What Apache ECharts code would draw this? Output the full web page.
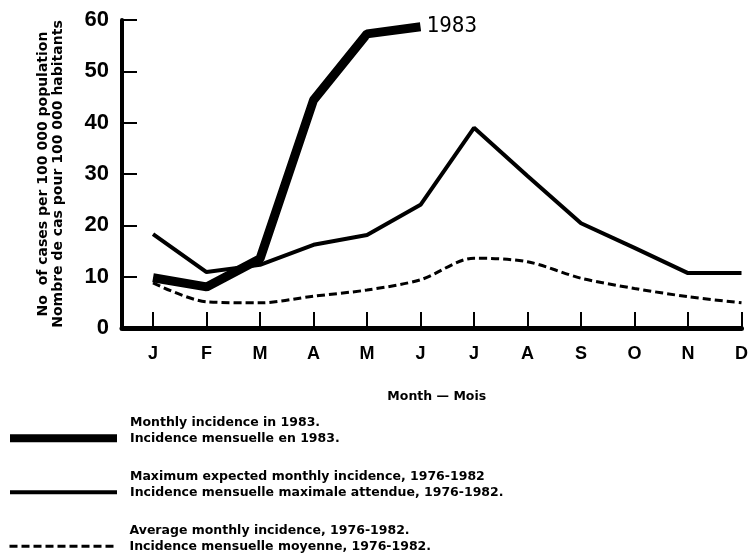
<!DOCTYPE html>
<html>
<head>
<meta charset="utf-8">
<script src="https://cdn.jsdelivr.net/npm/echarts@6/dist/echarts.min.js"></script>
<style>html,body{margin:0;padding:0;background:#fff}#c{width:751px;height:560px}</style>
</head>
<body>
<div id="c"></div>
<script>
var months = ['J','F','M','A','M','J','J','A','S','O','N','D'];
var yTicks = [0, 10, 20, 30, 40, 50, 60];
var incidence1983 = [9.8, 8.0, 13.5, 44.4, 57.3, 58.7];
var maxExpected = [18.3, 10.9, 12.3, 16.2, 18.1, 24.0, 39.0, 29.6, 20.4, 15.6, 10.7, 10.7];
var averageInc = [8.8, 5.1, 4.9, 6.2, 7.4, 9.4, 13.6, 12.9, 9.7, 7.7, 6.1, 4.9];
var legendTexts = {
  '1983': 'Monthly incidence in 1983.\nIncidence mensuelle en 1983.',
  'max': 'Maximum expected monthly incidence, 1976-1982\nIncidence mensuelle maximale attendue, 1976-1982.',
  'avg': 'Average monthly incidence, 1976-1982.\nIncidence mensuelle moyenne, 1976-1982.'
};

var monthIdx = months.map(function (_, i) { return i; });
function pairs(arr) { return arr.map(function (v, i) { return [i, v]; }); }

var chart = echarts.init(document.getElementById('c'));
var font = 'Liberation Sans, Arial, sans-serif';
var wide = 'DejaVu Sans, sans-serif';

function makeLegend(name, left, top, lineStyle) {
  return {
    orient: 'vertical', left: left, top: top,
    itemWidth: 107, itemHeight: 14,
    data: [{ name: name, lineStyle: lineStyle, itemStyle: { opacity: 0 } }],
    itemStyle: { opacity: 0 },
    formatter: function (n) { return legendTexts[n] + '\n '; },
    textStyle: { fontSize: 12.5, fontWeight: 'bold', color: '#000', lineHeight: 15.5, padding: [0, 0, 0, 8], fontFamily: wide },
    selectedMode: false
  };
}

chart.setOption({
  animation: false,
  textStyle: { fontFamily: font, color: '#000' },
  grid: { left: 122, right: 7, top: 20, bottom: 232 },
  xAxis: {
    type: 'value', min: -0.58, max: 11,
    name: 'Month — Mois', nameLocation: 'middle', nameGap: 62,
    nameTextStyle: { fontSize: 12.5, fontWeight: 'bold', color: '#000', fontFamily: wide, padding: [0, 0, 0, 10] },
    axisLine: { show: true, onZero: false, lineStyle: { color: '#000', width: 5 } },
    axisTick: { show: true, inside: true, length: 16, lineStyle: { color: '#000', width: 2 }, customValues: monthIdx },
    axisLabel: { show: true, customValues: monthIdx, margin: 17, fontSize: 18, fontWeight: 'bold', color: '#000', fontFamily: font,
      formatter: function (v) { return months[Math.round(v)]; } },
    splitLine: { show: false }
  },
  yAxis: {
    type: 'value', min: 0, max: 60, interval: 10,
    name: 'No  of cases per 100 000 population\nNombre de cas pour 100 000 habitants',
    nameLocation: 'middle', nameGap: 56, nameRotate: 90,
    nameTextStyle: { fontSize: 14, fontWeight: 'bold', color: '#000', lineHeight: 15, fontFamily: wide },
    axisLine: { show: true, onZero: false, lineStyle: { color: '#000', width: 4 } },
    axisTick: { show: true, inside: true, length: 15, lineStyle: { color: '#000', width: 2 } },
    axisLabel: { margin: 13, fontSize: 22, fontWeight: 'bold', color: '#000', fontFamily: font,
      formatter: function (v) { return yTicks.indexOf(v) >= 0 ? String(v) : ''; } },
    splitLine: { show: false }
  },
  legend: [
    makeLegend('1983', 1, 410, { width: 8, color: '#000' }),
    makeLegend('max', 3, 464, { width: 4, color: '#000' }),
    makeLegend('avg', 3, 518, { width: 3, color: '#000', type: [8, 4] })
  ],
  series: [
    {
      name: 'avg', type: 'line', symbol: 'none', smooth: 0.3, data: pairs(averageInc),
      itemStyle: { color: '#000' },
      lineStyle: { color: '#000', width: 3, type: [8, 4] }, z: 2
    },
    {
      name: 'max', type: 'line', symbol: 'none', data: pairs(maxExpected),
      itemStyle: { color: '#000' },
      lineStyle: { color: '#000', width: 4 }, z: 3
    },
    {
      name: '1983', type: 'line', symbol: 'none', data: pairs(incidence1983),
      itemStyle: { color: '#000' },
      lineStyle: { color: '#000', width: 9 }, z: 4,
      endLabel: { show: true, formatter: '1983', fontSize: 21, color: '#000', fontFamily: 'DejaVu Sans Mono', distance: 6 }
    }
  ]
});
</script>
</body>
</html>
